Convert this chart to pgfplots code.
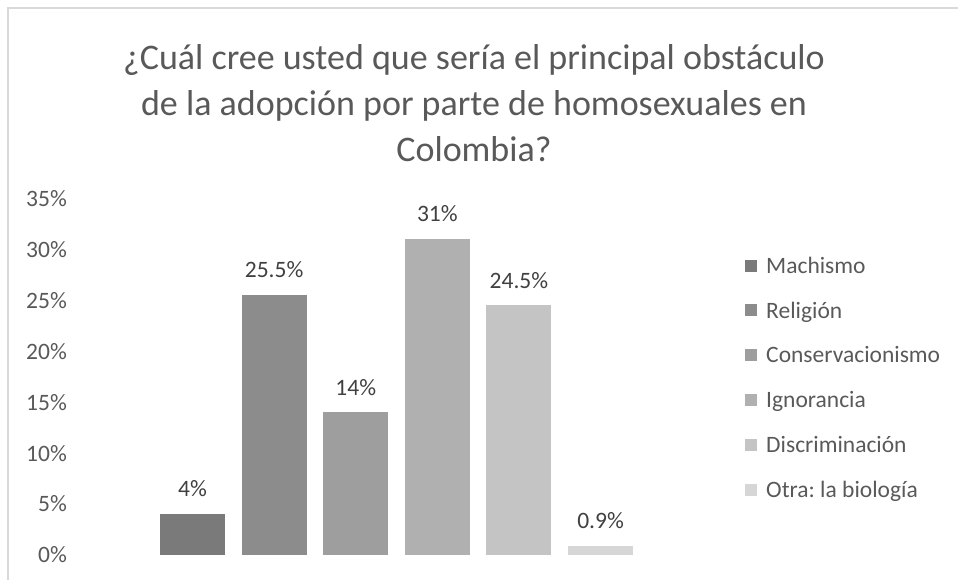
\documentclass[border=0pt]{standalone}
\usepackage{pgfplots}
\pgfplotsset{compat=1.18}
\usepackage{fontspec}
\setmainfont{Carlito}
\frenchspacing
\definecolor{txt}{HTML}{595959}
\definecolor{lab}{HTML}{404040}
\definecolor{c1}{HTML}{7A7A7A}
\definecolor{c2}{HTML}{8C8C8C}
\definecolor{c3}{HTML}{9E9E9E}
\definecolor{c4}{HTML}{B0B0B0}
\definecolor{c5}{HTML}{C4C4C4}
\definecolor{c6}{HTML}{D6D6D6}
\begin{document}
\frenchspacing
\begin{tikzpicture}[x=1pt,y=1pt]
\useasboundingbox (0,0) rectangle (958,579);
\draw[color=black!15, line width=1.5pt] (8,-2) -- (8,571) -- (960,571);
\node[align=center, text=txt, font=\fontsize{36}{46}\selectfont] at (474,476) {¿Cuál cree usted que sería el principal obstáculo\\de la adopción por parte de homosexuales en\\Colombia?};
\begin{axis}[
  at={(75pt,24pt)}, anchor=south west,
  scale only axis, width=648pt, height=356.5pt,
  xmin=-1.44, xmax=6.5, ymin=0, ymax=35,
  axis line style={draw=none},
  major tick length=0pt,
  xtick=\empty,
  ytick={0,5,...,35},
  yticklabel={\pgfmathprintnumber[assume math mode=true]{\tick}\%},
  yticklabel style={font=\fontsize{23.5}{28}\selectfont, text=txt, anchor=east, inner sep=0pt, xshift=-8pt},
  ybar, bar width=65pt, bar shift=0pt,
  every axis plot/.append style={draw=none},
  nodes near coords={\pgfmathprintnumber[assume math mode=true]{\pgfplotspointmeta}\%},
  every node near coord/.append style={font=\fontsize{23.5}{28}\selectfont, text=lab, anchor=south, inner sep=0pt, yshift=17pt},
  legend image code/.code={\fill[#1] (0pt,-6pt) rectangle (12pt,6pt);},
  legend style={draw=none, fill=none, at={(1.034,0.847)}, anchor=north west, inner sep=0pt,
    font=\fontsize{23.5}{28}\selectfont\frenchspacing, text=txt, row sep=20pt, column sep=9pt,
    nodes={inner sep=0pt, text height=20pt, text depth=4.8pt, anchor=west}},
  legend cell align=left,
]
\addplot[fill=c1] coordinates {(0,4)};
\addplot[fill=c2] coordinates {(1,25.5)};
\addplot[fill=c3] coordinates {(2,14)};
\addplot[fill=c4] coordinates {(3,31)};
\addplot[fill=c5] coordinates {(4,24.5)};
\addplot[fill=c6] coordinates {(5,0.9)};
\legend{Machismo,Religión,Conservacionismo,Ignorancia,Discriminación,Otra: la biología}
\end{axis}
\end{tikzpicture}
\end{document}
